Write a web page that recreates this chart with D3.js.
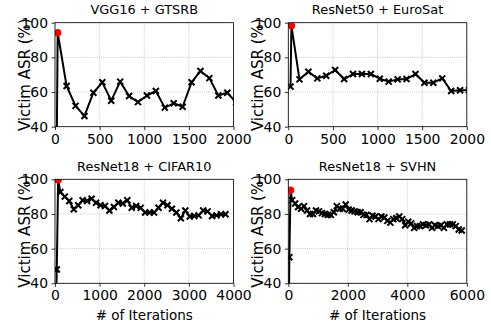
<!DOCTYPE html>
<html>
<head>
<meta charset="utf-8">
<script src="https://cdn.jsdelivr.net/npm/d3@7"></script>
<style>
  body { margin: 0; background: #fff; }
  svg { font-family: "DejaVu Sans", sans-serif; }
</style>
</head>
<body>
<svg id="chart" width="491" height="326"></svg>
<script>
// VGG16 + GTSRB
const gtsrbIters = [15, 30, 130, 230, 330, 430, 530, 630, 730, 830, 930, 1030, 1130, 1230, 1330, 1430, 1530, 1630, 1730, 1830, 1930, 2030];
const gtsrbAsr = [0, 94.2, 63.5, 52, 46.2, 59.6, 65.6, 55, 66, 57.7, 54.2, 58, 60.6, 51, 53.5, 51.5, 65.6, 72.1, 68, 58, 59.6, 54];

// ResNet50 + EuroSat
const eurosatIters = [25, 35, 125, 225, 325, 425, 525, 625, 725, 825, 925, 1025, 1125, 1225, 1325, 1425, 1525, 1625, 1725, 1825, 1925, 2025];
const eurosatAsr = [63.1, 98.3, 67.3, 71.7, 67.9, 69.4, 72.7, 67.5, 70.4, 70.4, 70.4, 67.7, 66, 67.3, 67.5, 70.4, 65.4, 65.4, 67.9, 60.6, 61, 61];

// ResNet18 + CIFAR10
const cifarIters = [5, 40, 70, 120, 220, 320, 420, 520, 620, 720, 820, 920, 1020, 1120, 1220, 1320, 1420, 1520, 1620, 1720, 1820, 1920, 2020,
  2120, 2220, 2320, 2420, 2520, 2620, 2720, 2820, 2920, 3020, 3120, 3220, 3320, 3420, 3520, 3620, 3720, 3820];
const cifarAsr = [0, 48, 99.6, 92.7, 90, 87.5, 82.7, 85, 87.9, 87.5, 88.8, 86.5, 85, 84.6, 82, 84, 86.5, 86, 87.9, 83.6, 84.6, 83.5, 80.8,
  80.8, 80.8, 83.6, 86.5, 85, 83, 80.8, 77.5, 82, 78.5, 78.8, 79.2, 82, 81.5, 78.8, 79.2, 79.8, 79.8];

// ResNet18 + SVHN
const svhnIters = [5, 35, 75, 130, 230, 330, 430, 530, 630, 730, 830, 930, 1030, 1130, 1230, 1330, 1430, 1530, 1630, 1730, 1830, 1930, 2030,
  2130, 2230, 2330, 2430, 2530, 2630, 2730, 2830, 2930, 3030, 3130, 3230, 3330, 3430, 3530, 3630, 3730, 3830, 3930, 4030,
  4130, 4230, 4330, 4430, 4530, 4630, 4730, 4830, 4930, 5030, 5130, 5230, 5330, 5430, 5530, 5630, 5730, 5830];
const svhnAsr = [0, 55, 93.7, 88, 86, 84, 83, 84.5, 82, 80, 80, 82, 81.5, 80.5, 80, 79.5, 79.5, 81, 84.5, 83, 83, 85.5, 82.5,
  82, 81.5, 81, 81, 79.5, 79.5, 77, 79, 78.5, 77, 78.5, 78, 76, 75, 77, 77.5, 78.5, 77, 73.5, 75.5,
  74.5, 72, 73, 73, 74, 73.5, 74, 72, 73.5, 73, 73.5, 72, 74, 74, 74, 73, 71, 70.5];

const titles = ["VGG16 + GTSRB", "ResNet50 + EuroSat", "ResNet18 + CIFAR10", "ResNet18 + SVHN"];
const xTicks = [[0, 500, 1000, 1500, 2000], [0, 500, 1000, 1500, 2000], [0, 1000, 2000, 3000, 4000], [0, 2000, 4000, 6000]];
const yTicks = [40, 60, 80, 100];
const peakIndex = [1, 1, 2, 2];

const panels = [
  { title: titles[0], iters: gtsrbIters, asr: gtsrbAsr, xMax: 2000, ticks: xTicks[0], peak: peakIndex[0], left: 55, top: 22.7, xlabel: false },
  { title: titles[1], iters: eurosatIters, asr: eurosatAsr, xMax: 2000, ticks: xTicks[1], peak: peakIndex[1], left: 288.3, top: 22.7, xlabel: false },
  { title: titles[2], iters: cifarIters, asr: cifarAsr, xMax: 4000, ticks: xTicks[2], peak: peakIndex[2], left: 55, top: 179.3, xlabel: true },
  { title: titles[3], iters: svhnIters, asr: svhnAsr, xMax: 6000, ticks: xTicks[3], peak: peakIndex[3], left: 288.3, top: 179.3, xlabel: true }
];

const width = 178.5;
const height = 104;
const svg = d3.select("#chart");

panels.forEach((p, idx) => {
  let g = svg.append("g").attr("transform", `translate(${p.left},${p.top})`);

  let x = d3.scaleLinear().domain([0, p.xMax]).range([0, width]);
  let y = d3.scaleLinear().domain([40, 100]).range([height, 0]);

  // grid
  g.append("g")
    .selectAll("line.vgrid")
    .data(p.ticks)
    .join("line")
    .attr("x1", d => x(d)).attr("x2", d => x(d))
    .attr("y1", 0).attr("y2", height)
    .attr("stroke", "#b0b0b0").attr("stroke-width", 0.8)
    .attr("stroke-dasharray", "0.8,1.3");
  g.append("g")
    .selectAll("line.hgrid")
    .data(yTicks)
    .join("line")
    .attr("x1", 0).attr("x2", width)
    .attr("y1", d => y(d)).attr("y2", d => y(d))
    .attr("stroke", "#b0b0b0").attr("stroke-width", 0.8)
    .attr("stroke-dasharray", "0.8,1.3");

  // clip to axes area
  let clipId = "clip" + idx;
  g.append("clipPath").attr("id", clipId)
    .append("rect").attr("width", width).attr("height", height);

  let pts = p.iters.map((it, i) => ({ it: it, v: p.asr[i], i: i }));
  let plot = g.append("g").attr("clip-path", `url(#${clipId})`);

  plot.append("path")
    .datum(pts)
    .attr("fill", "none")
    .attr("stroke", "black")
    .attr("stroke-width", 2)
    .attr("stroke-linejoin", "round")
    .attr("d", d3.line().x(d => x(d.it)).y(d => y(d.v)));

  // x markers
  let s = 3;
  plot.selectAll("path.mark")
    .data(pts.filter(d => d.i !== p.peak))
    .join("path")
    .attr("class", "mark")
    .attr("d", d => {
      let cx = x(d.it), cy = y(d.v);
      return `M${cx - s},${cy - s}L${cx + s},${cy + s}M${cx - s},${cy + s}L${cx + s},${cy - s}`;
    })
    .attr("stroke", "black")
    .attr("stroke-width", 2);

  // red peak point
  let pk = pts[p.peak];
  plot.append("circle")
    .attr("cx", x(pk.it)).attr("cy", y(pk.v))
    .attr("r", 3.7)
    .attr("fill", "red");

  // axes
  let xAxis = g.append("g")
    .attr("transform", `translate(0,${height})`)
    .call(d3.axisBottom(x).tickValues(p.ticks).tickFormat(d3.format("d"))
      .tickSize(3.5).tickPadding(3.5).tickSizeOuter(0));
  let yAxis = g.append("g")
    .call(d3.axisLeft(y).tickValues(yTicks).tickFormat(d3.format("d"))
      .tickSize(3.5).tickPadding(3.5).tickSizeOuter(0));

  [xAxis, yAxis].forEach(a => {
    a.select(".domain").remove();
    a.selectAll("line").attr("stroke-width", 0.8);
    a.selectAll("text")
      .attr("font-family", "DejaVu Sans")
      .attr("font-size", "13.9px")
      .attr("fill", "black");
  });

  // spines
  g.append("rect")
    .attr("width", width).attr("height", height)
    .attr("fill", "none")
    .attr("stroke", "black")
    .attr("stroke-width", 0.8);

  // title
  g.append("text")
    .attr("x", width / 2)
    .attr("y", -8.5)
    .attr("text-anchor", "middle")
    .attr("font-size", "12.9px")
    .attr("fill", "black")
    .text(p.title);

  // y label
  g.append("text")
    .attr("transform", `translate(-25,${height / 2}) rotate(-90)`)
    .attr("text-anchor", "middle")
    .attr("font-size", "15px")
    .attr("fill", "black")
    .text("Victim ASR (%)");

  if (p.xlabel) {
    g.append("text")
      .attr("x", width / 2)
      .attr("y", height + 37)
      .attr("text-anchor", "middle")
      .attr("font-size", "13.5px")
      .attr("fill", "black")
      .text("# of Iterations");
  }
});
</script>
</body>
</html>
